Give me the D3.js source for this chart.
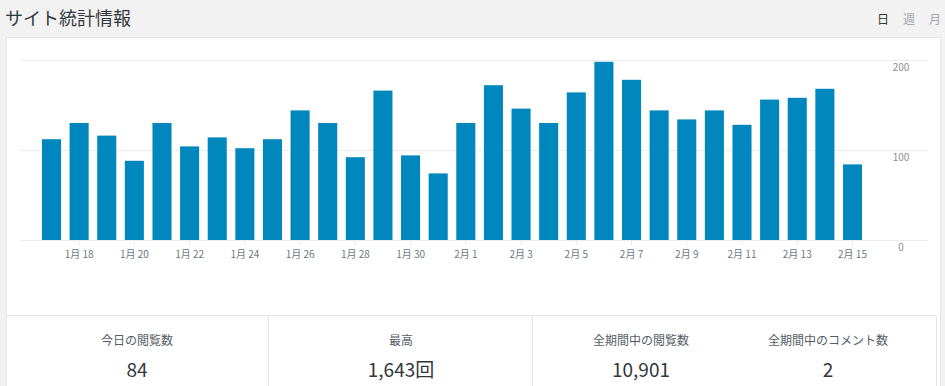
<!DOCTYPE html>
<html>
<head>
<meta charset="utf-8">
<script src="https://cdn.jsdelivr.net/npm/d3@7"></script>
<style>
  html, body { margin: 0; padding: 0; background: #f2f2f2; }
  svg { display: block; font-family: "Noto Sans CJK JP", "Noto Sans", sans-serif; }
</style>
</head>
<body>
<script>
// daily views, Jan 17 - Feb 15
var days = ["1月 17","1月 18","1月 19","1月 20","1月 21","1月 22","1月 23","1月 24","1月 25","1月 26",
            "1月 27","1月 28","1月 29","1月 30","1月 31","2月 1","2月 2","2月 3","2月 4","2月 5",
            "2月 6","2月 7","2月 8","2月 9","2月 10","2月 11","2月 12","2月 13","2月 14","2月 15"];
var views = [112,130,116,88,130,104,114,102,112,144,
             130,92,166,94,74,130,172,146,130,164,
             198,178,144,134,144,128,156,158,168,84];
var yTicks = [0, 100, 200];
var tabs = ["日", "週", "月"];
var statLabels = ["今日の閲覧数", "最高", "全期間中の閲覧数", "全期間中のコメント数"];
var statValues = ["84", "1,643回", "10,901", "2"];

var width = 945,
    height = 386;

var svg = d3.select("body").append("svg")
    .attr("width", width)
    .attr("height", height);

// header
svg.append("text")
    .attr("x", 5)
    .attr("y", 25)
    .attr("font-size", 18)
    .attr("fill", "#32373c")
    .text("サイト統計情報");

var tabX = d3.scalePoint().domain(tabs).range([883, 935]);
svg.selectAll(".tab")
  .data(tabs)
  .enter().append("text")
    .attr("class", "tab")
    .attr("x", d => tabX(d))
    .attr("y", 24)
    .attr("text-anchor", "middle")
    .attr("font-size", 12)
    .attr("fill", (d, i) => i == 0 ? "#333" : "#a0a5aa")
    .text(d => d);

// white panel
svg.append("rect")
    .attr("x", 6.5)
    .attr("y", 37.5)
    .attr("width", 934)
    .attr("height", 400)
    .attr("fill", "#fff")
    .attr("stroke", "#e5e5e5");

var x = d3.scaleBand()
    .domain(days)
    .range([37.7, 866.3])
    .paddingInner(0.31)
    .paddingOuter(0.155);

var y = d3.scaleLinear()
    .domain([0, 200])
    .range([240, 60]);

// grid
svg.selectAll(".grid")
  .data(yTicks)
  .enter().append("line")
    .attr("class", "grid")
    .attr("x1", 20)
    .attr("x2", 928)
    .attr("y1", d => Math.round(y(d)) + 0.5)
    .attr("y2", d => Math.round(y(d)) + 0.5)
    .attr("stroke", "#ececec");

svg.selectAll(".ylab")
  .data(yTicks)
  .enter().append("text")
    .attr("class", "ylab")
    .attr("x", 901)
    .attr("y", d => y(d) + 11)
    .attr("text-anchor", "middle")
    .attr("font-size", 10)
    .attr("fill", "#8c8f94")
    .text(d => d);

// bars
svg.selectAll(".bar")
  .data(views)
  .enter().append("rect")
    .attr("class", "bar")
    .attr("x", (d, i) => x(days[i]))
    .attr("width", x.bandwidth())
    .attr("y", d => y(d))
    .attr("height", d => y(0) - y(d))
    .attr("fill", "#0087be");

// x axis (every other day)
var xAxis = d3.axisBottom(x)
    .tickValues(days.filter((d, i) => i % 2 == 1))
    .tickSize(5)
    .tickSizeOuter(0);

var gx = svg.append("g")
    .attr("transform", "translate(0,240)")
    .call(xAxis);
gx.select(".domain").remove();
gx.selectAll(".tick line").attr("stroke", "#e8e8e8");
gx.selectAll(".tick text")
    .attr("font-family", "'Noto Sans CJK JP', sans-serif")
    .attr("font-size", 10)
    .attr("fill", "#6c7781")
    .attr("dy", "0.95em");

// stats box
var statG = svg.append("g");
statG.append("line")
    .attr("x1", 6).attr("x2", 936.5)
    .attr("y1", 315.5).attr("y2", 315.5)
    .attr("stroke", "#e5e5e5");
statG.append("line")
    .attr("x1", 936.5).attr("x2", 936.5)
    .attr("y1", 315).attr("y2", height)
    .attr("stroke", "#e5e5e5");
[268.5, 532.5].forEach(function(xv){
  statG.append("line")
      .attr("x1", xv).attr("x2", xv)
      .attr("y1", 315).attr("y2", height)
      .attr("stroke", "#e5e5e5");
});

var statX = [137, 401, 641, 828];
statG.selectAll(".slab")
  .data(statLabels)
  .enter().append("text")
    .attr("class", "slab")
    .attr("x", (d, i) => statX[i])
    .attr("y", 345)
    .attr("text-anchor", "middle")
    .attr("font-size", 12)
    .attr("fill", "#555d66")
    .text(d => d);

statG.selectAll(".sval")
  .data(statValues)
  .enter().append("text")
    .attr("class", "sval")
    .attr("x", (d, i) => statX[i])
    .attr("y", 377)
    .attr("text-anchor", "middle")
    .attr("font-size", 19)
    .attr("fill", "#32373c")
    .text(d => d);
</script>
</body>
</html>
